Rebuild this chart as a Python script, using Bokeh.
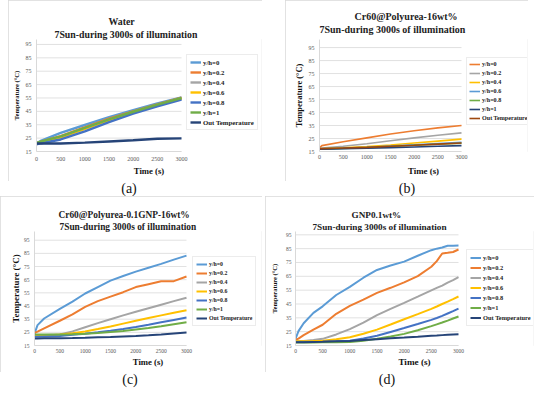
from bokeh.plotting import figure
from bokeh.models import Legend, LegendItem, FixedTicker, Range1d, Title, Div, Spacer
from bokeh.layouts import row, column
from bokeh.embed import file_html
from bokeh.resources import INLINE

# ---------------- data ----------------
labels = ["y/h=0", "y/h=0.2", "y/h=0.4", "y/h=0.6", "y/h=0.8", "y/h=1", "Out Temperature"]
x_ticks = [0, 500, 1000, 1500, 2000, 2500, 3000]
y_ticks = [15, 25, 35, 45, 55, 65, 75, 85, 95]

# (a) Water
a_time = [0, 100, 500, 1000, 1500, 2000, 2500, 3000]
a_h0 = [21.1, 23.2, 28.9, 34.8, 40.7, 45.9, 50.9, 55.4]
a_h02 = [21.0, 22.3, 26.5, 33.0, 39.5, 45.0, 50.2, 55.2]
a_h04 = [21.0, 22.0, 25.8, 32.3, 38.8, 44.5, 49.8, 54.8]
a_h06 = [20.8, 21.8, 25.5, 32.0, 38.5, 44.2, 49.5, 54.6]
a_h08 = [20.3, 21.2, 24.0, 30.0, 37.0, 43.3, 48.8, 53.8]
a_h1 = [21.5, 22.6, 26.3, 32.6, 39.0, 44.7, 50.0, 55.0]
a_out = [21.0, 21.0, 21.0, 21.6, 22.5, 23.4, 24.5, 24.8]

# (b) Cr60@Polyurea-16wt%
b_time = [0, 50, 500, 1000, 1500, 2000, 2500, 3000]
b_h0 = [17.8, 19.5, 22.5, 25.5, 28.5, 31.0, 33.2, 35.0]
b_h02 = [17.5, 17.7, 19.0, 21.0, 23.3, 25.5, 27.5, 29.3]
b_h04 = [17.0, 17.1, 17.8, 18.8, 20.0, 21.5, 23.0, 24.5]
b_h06 = [17.0, 17.0, 17.5, 18.3, 19.2, 20.2, 21.2, 22.0]
b_h08 = [17.0, 17.0, 17.4, 18.0, 18.9, 19.8, 20.6, 21.3]
b_h1 = [16.8, 16.8, 17.1, 17.5, 18.0, 18.5, 19.0, 19.5]
b_out = [17.2, 17.2, 17.7, 18.2, 19.0, 19.8, 20.7, 21.5]

# (c) Cr60@Polyurea-0.1GNP-16wt%
c_time = [0, 60, 190, 500, 750, 1000, 1250, 1500, 1750, 2000, 2250, 2500, 2750, 3000]
c_h0 = [24.0, 30.5, 35.5, 42.8, 48.4, 54.5, 59.4, 64.3, 67.8, 71.1, 74.1, 77.0, 80.2, 83.3]
c_h02 = [24.5, 25.5, 28.0, 33.8, 38.7, 44.3, 48.7, 52.1, 55.5, 59.4, 61.6, 63.8, 63.9, 67.4]
c_h04 = [22.8, 22.8, 22.9, 23.3, 25.7, 28.9, 32.0, 35.0, 37.9, 40.6, 43.3, 46.0, 48.7, 51.3]
c_h06 = [22.3, 22.3, 22.5, 23.3, 24.4, 25.7, 27.5, 29.4, 31.6, 33.8, 35.9, 37.9, 39.9, 41.8]
c_h08 = [21.6, 21.7, 21.9, 22.3, 23.1, 24.0, 25.0, 26.2, 27.6, 29.1, 30.8, 32.6, 34.4, 36.2]
c_h1 = [23.3, 23.3, 23.3, 23.3, 23.6, 24.0, 24.5, 25.2, 26.1, 27.2, 28.3, 29.6, 31.1, 32.6]
c_out = [20.4, 20.4, 20.5, 20.6, 20.7, 20.9, 21.2, 21.5, 21.9, 22.3, 22.8, 23.4, 24.1, 24.8]

# (d) GNP0.1wt%
d_time = [0, 55, 150, 330, 500, 750, 1000, 1250, 1500, 1750, 2000, 2250, 2500, 2600, 2700, 2800, 2900, 3000]
d_h0 = [19.8, 25.4, 31.1, 38.6, 43.3, 51.5, 57.4, 64.0, 69.6, 72.8, 75.6, 79.9, 83.9, 85.0, 85.8, 87.1, 87.1, 87.2]
d_h02 = [19.0, 20.0, 22.5, 26.5, 30.0, 37.9, 43.6, 48.1, 53.0, 56.7, 60.6, 65.1, 71.9, 76.0, 81.5, 82.0, 82.6, 84.4]
d_h04 = [18.2, 18.2, 18.3, 18.9, 19.8, 23.0, 26.8, 31.5, 37.0, 41.5, 45.8, 50.3, 54.9, 56.6, 58.3, 60.5, 62.3, 64.4]
d_h06 = [18.0, 18.0, 18.0, 18.2, 18.5, 19.5, 21.0, 23.5, 26.5, 30.2, 34.0, 37.7, 41.5, 43.2, 45.0, 46.7, 48.5, 50.4]
d_h08 = [17.5, 17.5, 17.5, 17.6, 17.7, 18.0, 18.5, 20.0, 22.0, 24.8, 27.6, 30.5, 33.5, 34.9, 36.4, 38.1, 39.8, 41.6]
d_h1 = [17.2, 17.2, 17.2, 17.2, 17.3, 17.4, 17.5, 18.5, 19.8, 21.5, 23.4, 26.0, 29.0, 30.3, 31.6, 33.0, 34.5, 36.0]
d_out = [17.3, 17.3, 17.4, 17.6, 17.7, 18.0, 18.3, 19.0, 19.6, 20.2, 20.7, 21.3, 22.0, 22.2, 22.5, 22.7, 22.9, 23.1]

# colours (Excel palette)
LBLUE, ORANGE, GRAY, YELLOW, BLUE, GREEN, DBLUE, BROWN = (
    "#5B9BD5", "#ED7D31", "#A5A5A5", "#FFC000", "#4472C4", "#70AD47", "#264478", "#9E480E")
colors_acd = [LBLUE, ORANGE, GRAY, YELLOW, BLUE, GREEN, DBLUE]
colors_b = [ORANGE, GRAY, YELLOW, LBLUE, GREEN, DBLUE, BROWN]

SERIF = "Liberation Serif"
BOX = {"outline": "1px solid #d9d9d9", "outline-offset": "-1px"}
X_MAX = x_ticks[-1]


def spacer_title(px):
    # white dot on white: only reserves vertical room between the frame and the titles
    return Title(text=".", text_color="white", text_font_size=f"{px}px", standoff=0)


def make_panel(time, series, colors, W, H, bl, plot_w, bt, bb, ytop,
               t1, t2, tfont, off1, off2, gap_frame,
               yfont, xfont, tickfont, stand,
               leg_loc, leg_font, leg_lh, leg_sp, leg_pad, lw):
    full_w = W - bl - 1
    x_end = X_MAX * full_w / plot_w
    p = figure(width=W, height=H, x_range=Range1d(0, x_end), y_range=Range1d(15, ytop),
               output_backend="svg", toolbar_location=None, title=None,
               min_border_left=bl, min_border_right=1, min_border_top=bt, min_border_bottom=bb,
               background_fill_color="white", border_fill_color="white",
               styles=BOX)
    p.outline_line_color = None
    if gap_frame > 0:
        p.add_layout(spacer_title(gap_frame), "above")
    p.add_layout(Title(text=t2, align="left", offset=off2, text_font=SERIF,
                       text_font_size=f"{tfont}px", text_font_style="bold",
                       text_color="#222222", standoff=0), "above")
    p.add_layout(Title(text=t1, align="left", offset=off1, text_font=SERIF,
                       text_font_size=f"{tfont}px", text_font_style="bold",
                       text_color="#222222", standoff=0), "above")
    # horizontal gridlines over the data span only
    p.segment(x0=[0] * len(y_ticks), x1=[X_MAX] * len(y_ticks), y0=y_ticks, y1=y_ticks,
              line_color="#d9d9d9", line_width=0.8)
    renderers = []
    for ys, c in zip(series, colors):
        renderers.append(p.line(time, ys, line_color=c, line_width=lw))
    for ax in (p.xaxis[0], p.yaxis[0]):
        ax.axis_line_color = "#d9d9d9"
        ax.major_tick_line_color = None
        ax.minor_tick_line_color = None
        ax.major_tick_out = 0
        ax.major_tick_in = 0
        ax.minor_tick_out = 0
        ax.minor_tick_in = 0
        ax.major_label_text_font = SERIF
        ax.major_label_text_font_size = f"{tickfont}px"
        ax.major_label_text_color = "#595959"
        ax.axis_label_text_font = SERIF
        ax.axis_label_text_font_style = "bold"
        ax.axis_label_text_color = "#111111"
    p.xaxis.bounds = (0, X_MAX)
    p.xaxis.ticker = FixedTicker(ticks=x_ticks)
    p.yaxis.ticker = FixedTicker(ticks=y_ticks)
    p.xaxis.axis_label = "Time (s)"
    p.yaxis.axis_label = "Temperature (°C)"
    p.xaxis.axis_label_text_font_size = f"{xfont}px"
    p.yaxis.axis_label_text_font_size = f"{yfont}px"
    p.xaxis.major_label_standoff = stand[0]
    p.xaxis.axis_label_standoff = stand[1]
    p.yaxis.major_label_standoff = stand[2]
    p.yaxis.axis_label_standoff = stand[3]
    p.xgrid.grid_line_color = None
    p.ygrid.grid_line_color = None
    items = [LegendItem(label=l, renderers=[r]) for l, r in zip(labels, renderers)]
    leg = Legend(items=items, location=(plot_w + leg_loc[0], leg_loc[1]), margin=0,
                 padding=leg_pad, spacing=leg_sp,
                 glyph_width=11, glyph_height=leg_lh, label_height=leg_lh, label_standoff=2,
                 label_text_font=SERIF, label_text_font_size=f"{leg_font}px",
                 label_text_font_style="bold", label_text_color="#222222",
                 border_line_color="#d9d9d9", background_fill_color="white",
                 background_fill_alpha=1.0)
    p.add_layout(leg)
    return p


SUB = "7Sun-during 3000s of illumination"

# top row shares frame top/bottom (row alignment): top 39, bottom 30
pa = make_panel(a_time, [a_h0, a_h02, a_h04, a_h06, a_h08, a_h1, a_out], colors_acd,
                254, 181, 28, 145, 39, 30, 98.7,
                "Water", SUB, 9.8, 72, 18, 0,
                6.5, 8.7, 6, (5, 2, 5, 3),
                (5, 21), 6.8, 8, 2, 3, 2.4)
pb = make_panel(b_time, [b_h0, b_h02, b_h04, b_h06, b_h08, b_h1, b_out], colors_b,
                243, 181, 34, 142, 39, 30, 101.2,
                "Cr60@Polyurea-16wt%", SUB, 10, 35, 0, 3,
                8.4, 8.9, 6, (3, 4, 5, 2),
                (5, 26), 6.1, 8, 1, 2, 1.6)
# bottom row shares frame top/bottom: top 35, bottom 27
pc = make_panel(c_time, [c_h0, c_h02, c_h04, c_h06, c_h08, c_h1, c_out], colors_acd,
                262, 176, 34, 152, 35, 27, 101.6,
                "Cr60@Polyurea-0.1GNP-16wt%", SUB, 9.4, 24, 25, 0,
                9, 8.7, 5.5, (3, 1, 5, 0),
                (6, 19), 5.8, 8, 1, 3, 2)
pd_ = make_panel(d_time, [d_h0, d_h02, d_h04, d_h06, d_h08, d_h1, d_out], colors_acd,
                 269, 176, 30, 163, 35, 27, 97.4,
                 "GNP0.1wt%", SUB, 9.2, 56, 17, 0,
                 6.5, 9.2, 5.5, (3, 1, 4, 5),
                 (8, 19), 6.4, 9, 1, 3, 2)


def caption(txt, w, h):
    html = (f'<div style="width:{w}px;height:{h}px;line-height:{h}px;text-align:center;'
            f'font-family:\'{SERIF}\';font-size:14px;color:#111111;margin:0;padding:0">{txt}</div>')
    return Div(text=html, width=w, height=h, margin=0)


layout = column(
    row(Spacer(width=8, height=181, margin=0), pa, Spacer(width=23, height=181, margin=0), pb),
    row(caption("(a)", 258, 15), Spacer(width=27, height=15, margin=0), caption("(b)", 244, 15)),
    row(pc, Spacer(width=3, height=176, margin=0), pd_),
    row(caption("(c)", 260, 12), Spacer(width=5, height=12, margin=0), caption("(d)", 244, 12)),
)

open("out.html", "w").write(file_html(layout, INLINE))
